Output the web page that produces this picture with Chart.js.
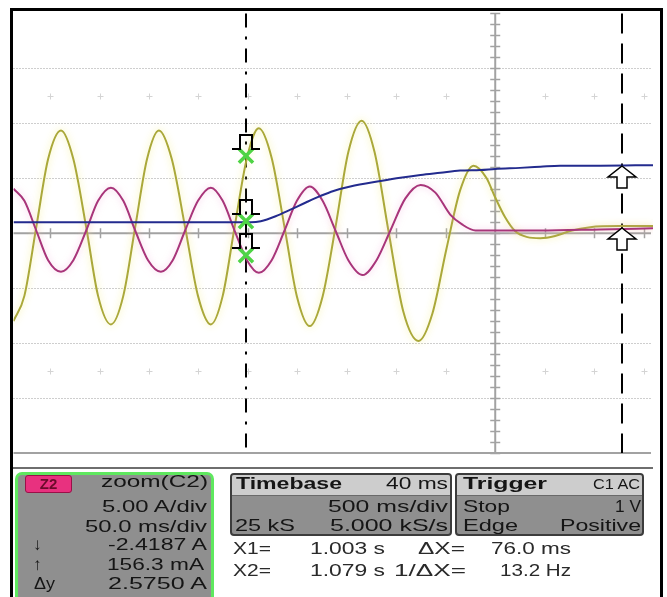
<!DOCTYPE html>
<html>
<head>
<meta charset="utf-8">
<script src="https://cdn.jsdelivr.net/npm/chart.js@4.4.1/dist/chart.umd.min.js"></script>
<style>
html,body{margin:0;padding:0;background:#fff;width:667px;height:597px;overflow:hidden;}
#wrap{position:relative;width:667px;height:597px;overflow:hidden;font-family:"Liberation Sans",Arial,sans-serif;}
#c{position:absolute;left:0;top:0;}
.frame{position:absolute;left:10px;top:8px;width:653px;height:610px;border:3px solid #000;box-sizing:border-box;pointer-events:none;}
.sep{position:absolute;left:12px;top:467px;width:641px;height:2px;background:#6e6e6e;}
.z2{position:absolute;left:15px;top:472px;width:199px;height:140px;box-sizing:border-box;border:3px solid #5fe85f;border-radius:7px;background:#8f8f8f;}
.badge{position:absolute;left:25px;top:475px;width:47px;height:18px;background:#e8317f;border-radius:3px;border:1px solid #9a1048;box-sizing:border-box;color:#6a0a2a;font-weight:bold;font-size:15px;line-height:16px;text-align:center;}
.box{position:absolute;top:473px;height:63px;box-sizing:border-box;border:2px solid #3c3c3c;border-radius:4px;background:#8f8f8f;overflow:hidden;}
.box .hd{position:absolute;left:0;top:0;right:0;height:20px;background:#cdcdcd;border-bottom:1px solid #6a6a6a;}
.t{position:absolute;white-space:nowrap;font-size:17px;line-height:20px;color:#151515;transform-origin:0 50%;}
.b{font-weight:bold;}
.s{font-size:14px;}
.w{color:#2a2a2a;}
</style>
</head>
<body>
<div id="wrap">
<canvas id="c" width="667" height="597"></canvas>
<div class="sep"></div>
<div class="z2"></div>
<div class="badge">Z2</div>
<div class="box" style="left:230px;width:222px;"><div class="hd"></div></div>
<div class="box" style="left:455px;width:189px;"><div class="hd"></div></div>

<div class="t" data-w="107" style="left:101px;top:472px;">zoom(C2)</div>
<div class="t" data-w="105" style="left:102px;top:497px;">5.00 A/div</div>
<div class="t" data-w="122" style="left:85px;top:517px;">50.0 ms/div</div>
<div class="t" data-w="99" style="left:108px;top:535px;">-2.4187 A</div>
<div class="t" data-w="97" style="left:107px;top:555px;">156.3 mA</div>
<div class="t" data-w="99" style="left:108px;top:574px;">2.5750 A</div>
<div class="t" style="left:33px;top:535px;">↓</div>
<div class="t" style="left:33px;top:555px;">↑</div>
<div class="t" data-w="21" style="left:34px;top:574px;">Δy</div>

<div class="t b" data-w="106" style="left:236px;top:474px;">Timebase</div>
<div class="t" data-w="62" style="left:386px;top:474px;">40 ms</div>
<div class="t" data-w="120" style="left:328px;top:497px;">500 ms/div</div>
<div class="t" data-w="60" style="left:235px;top:516px;">25 kS</div>
<div class="t" data-w="118" style="left:330px;top:516px;">5.000 kS/s</div>

<div class="t b" data-w="84" style="left:463px;top:474px;">Trigger</div>
<div class="t s" data-w="47" style="left:593px;top:474px;">C1 AC</div>
<div class="t" data-w="47" style="left:463px;top:497px;">Stop</div>
<div class="t" data-w="26" style="left:615px;top:497px;">1 V</div>
<div class="t" data-w="55" style="left:463px;top:516px;">Edge</div>
<div class="t" data-w="81" style="left:560px;top:516px;">Positive</div>

<div class="t w" data-w="38" style="left:233px;top:539px;">X1=</div>
<div class="t w" data-w="75" style="left:310px;top:539px;">1.003 s</div>
<div class="t w" data-w="47" style="left:418px;top:539px;">ΔX=</div>
<div class="t w" data-w="80" style="left:491px;top:539px;">76.0 ms</div>
<div class="t w" data-w="38" style="left:233px;top:561px;">X2=</div>
<div class="t w" data-w="75" style="left:310px;top:561px;">1.079 s</div>
<div class="t w" data-w="72" style="left:394px;top:561px;">1/ΔX=</div>
<div class="t w" data-w="71" style="left:500px;top:561px;">13.2 Hz</div>

<div class="frame"></div>
</div>
<script>
// ---------- data (time in ms, 10 ms/div, 0 at centre graticule; amplitude in divisions) ----------
const yellowT = [-97.4,-95.2,-92.8,-90.4,-87.8,-85.3,-82.7,-80.3,-77.7,-75.2,-72.8,-70.4,-68.0,-65.4,-62.7,-60.1,-57.5,-55.1,-52.7,-50.2,-47.8,-45.2,-42.6,-40.1,-37.5,-34.9,-32.3,-29.7,-27.0,-24.4,-21.6,-18.6,-15.5,-12.7,-9.9,-7.1,-4.4,-1.8,0.0,2.0,4.0,6.5,9.1,12.1,15.1,19.2,25.2,31.9];
const yellowV = [-1.60,-1.14,0.11,1.35,1.87,1.35,0.11,-1.14,-1.66,-1.14,0.11,1.35,1.87,1.35,0.11,-1.14,-1.66,-1.14,0.11,1.37,1.91,1.37,0.11,-1.15,-1.69,-1.15,0.11,1.48,2.05,1.48,0.05,-1.42,-1.96,-1.46,-0.30,0.78,1.23,1.01,0.65,0.29,0.04,-0.07,-0.09,-0.05,0.04,0.11,0.13,0.13];
const magentaT = [-97.4,-95.2,-92.8,-90.4,-87.8,-85.3,-82.7,-80.3,-77.7,-75.2,-72.8,-70.2,-67.6,-65.2,-62.7,-60.1,-57.5,-55.1,-52.7,-50.2,-47.8,-45.2,-42.6,-40.1,-37.5,-34.9,-32.3,-29.7,-26.8,-24.0,-21.2,-18.2,-15.1,-12.1,-9.1,-6.7,-4.0,0.0,9.1,21.2,31.9];
const magentaV = [0.81,0.59,0.05,-0.49,-0.70,-0.49,0.05,0.59,0.83,0.59,0.05,-0.49,-0.70,-0.49,0.05,0.59,0.83,0.59,0.05,-0.49,-0.72,-0.49,0.05,0.59,0.85,0.59,0.05,-0.49,-0.76,-0.49,0.05,0.63,0.88,0.74,0.34,0.16,0.05,0.05,0.05,0.07,0.09];
const blueT = [-97.4,-49.4,-47.4,-44.4,-41.4,-38.3,-35.3,-32.7,-29.3,-23.2,-19.2,-15.1,-11.1,-7.1,-3.0,0.0,5.0,9.1,13.1,21.2,31.9];
const blueV = [0.20,0.20,0.22,0.31,0.43,0.56,0.68,0.77,0.85,0.95,1.01,1.06,1.10,1.14,1.15,1.17,1.19,1.21,1.23,1.23,1.24];
const cursorX = [-50.4, 25.6];            // X1, X2 (ms)
const markerY = [1.41, 0.22, -0.40];      // values at cursor X1 (div)
const arrowY  = [1.23, 0.10];             // values at cursor X2 (div)
const xDivs = [-90,-80,-70,-60,-50,-40,-30,-20,-10,0,10,20,30];
const yDivs = [-4,-3,-2,-1,0,1,2,3,4];
const dotRows = [2.5,-2.5];

const toXY = (t,v) => t.map((x,i)=>({x, y:v[i]}));

const glow = {
  id:'glow',
  beforeDatasetDraw(chart,args){
    const ds = chart.data.datasets[args.index];
    if (ds.glowColor){ chart.ctx.save(); chart.ctx.shadowColor = ds.glowColor; chart.ctx.shadowBlur = 7; }
  },
  afterDatasetDraw(chart,args){
    const ds = chart.data.datasets[args.index];
    if (ds.glowColor){ chart.ctx.restore(); }
  }
};

const scopeGrid = {
  id:'scopeGrid',
  beforeDatasetsDraw(chart){
    const {ctx, chartArea:a, scales:{x,y}} = chart;
    ctx.save();
    ctx.strokeStyle = '#9c9c9c'; ctx.lineWidth = 1; ctx.setLineDash([1,2]);
    yDivs.forEach(v=>{
      if (v===0 || v===-4 || v===4) return;
      const py = Math.round(y.getPixelForValue(v))+0.5;
      ctx.beginPath(); ctx.moveTo(a.left,py); ctx.lineTo(a.right-2,py); ctx.stroke();
    });
    ctx.setLineDash([]);
    ctx.strokeStyle = '#d4d4d4'; ctx.lineWidth = 1;
    dotRows.forEach(r=>{
      const py = Math.round(y.getPixelForValue(r))+0.5;
      xDivs.forEach(v=>{
        if (v===0) return;
        const px = Math.round(x.getPixelForValue(v))+0.5;
        ctx.beginPath(); ctx.moveTo(px-3,py); ctx.lineTo(px+3,py); ctx.moveTo(px,py-3); ctx.lineTo(px,py+3); ctx.stroke();
      });
    });
    ctx.strokeStyle = '#a2a2a2'; ctx.lineWidth = 2;
    const y0 = y.getPixelForValue(0), x0 = x.getPixelForValue(0), yb = y.getPixelForValue(-4);
    ctx.beginPath(); ctx.moveTo(a.left,y0); ctx.lineTo(a.right-2,y0); ctx.stroke();
    ctx.beginPath(); ctx.moveTo(a.left,yb); ctx.lineTo(a.right-2,yb); ctx.stroke();
    ctx.beginPath(); ctx.moveTo(x0,a.top); ctx.lineTo(x0,yb); ctx.stroke();
    ctx.lineWidth = 1.5;
    xDivs.forEach(v=>{
      if (v===0) return;
      const px = Math.round(x.getPixelForValue(v))+0.5;
      ctx.beginPath(); ctx.moveTo(px,y0-5); ctx.lineTo(px,y0+5); ctx.stroke();
    });
    for (let d=-4; d<=4.001; d+=0.2){
      const py = Math.round(y.getPixelForValue(d))+0.5;
      ctx.beginPath(); ctx.moveTo(x0-5,py); ctx.lineTo(x0+5,py); ctx.stroke();
    }
    const yt = a.top;
    ctx.strokeStyle = '#000'; ctx.lineWidth = 2;
    const c1 = Math.round(x.getPixelForValue(cursorX[0]));
    ctx.setLineDash([14,9,3,9]);
    ctx.beginPath(); ctx.moveTo(c1,yt); ctx.lineTo(c1,yb); ctx.stroke();
    const c2 = Math.round(x.getPixelForValue(cursorX[1]));
    ctx.setLineDash([20,10]);
    ctx.beginPath(); ctx.moveTo(c2,yt); ctx.lineTo(c2,yb); ctx.stroke();
    ctx.setLineDash([]);
    ctx.restore();
  },
  afterDatasetsDraw(chart){
    const {ctx, scales:{x,y}} = chart;
    ctx.save();
    ctx.strokeStyle = '#000'; ctx.lineWidth = 2; ctx.lineJoin='miter';
    const c1 = Math.round(x.getPixelForValue(cursorX[0]));
    markerY.forEach(v=>{
      const by = Math.round(y.getPixelForValue(v)) - 7;
      ctx.beginPath();
      ctx.moveTo(c1-14,by); ctx.lineTo(c1-6,by); ctx.lineTo(c1-6,by-14); ctx.lineTo(c1+6,by-14); ctx.lineTo(c1+6,by); ctx.lineTo(c1+14,by);
      ctx.stroke();
    });
    const c2 = Math.round(x.getPixelForValue(cursorX[1]));
    ctx.fillStyle = '#fff'; ctx.lineWidth = 1.5;
    arrowY.forEach(v=>{
      const t = Math.round(y.getPixelForValue(v));
      ctx.beginPath();
      ctx.moveTo(c2,t); ctx.lineTo(c2+14,t+11); ctx.lineTo(c2+5,t+11); ctx.lineTo(c2+5,t+22);
      ctx.lineTo(c2-5,t+22); ctx.lineTo(c2-5,t+11); ctx.lineTo(c2-14,t+11); ctx.closePath();
      ctx.fill(); ctx.stroke();
    });
    ctx.restore();
  }
};

new Chart(document.getElementById('c'), {
  type:'line',
  data:{datasets:[
    {label:'markers', data: markerY.map(v=>({x:cursorX[0], y:v})), showLine:false,
     pointStyle:'crossRot', pointRadius:10, pointBorderWidth:3.5, borderWidth:3.5, borderColor:'#4fd446', backgroundColor:'#4fd446'},
    {label:'C3', data: toXY(blueT,blueV), borderColor:'#232b8e', borderWidth:2, pointRadius:0, cubicInterpolationMode:'monotone'},
    {label:'C2', data: toXY(magentaT,magentaV), borderColor:'#a8357a', borderWidth:2, pointRadius:0, cubicInterpolationMode:'monotone', glowColor:'rgba(240,160,210,0.6)'},
    {label:'C1', data: toXY(yellowT,yellowV), borderColor:'#aaa83a', borderWidth:2, pointRadius:0, cubicInterpolationMode:'monotone', glowColor:'rgba(245,240,140,0.9)'}
  ]},
  options:{
    responsive:false, animation:false, events:[],
    layout:{padding:{left:12,right:14,top:9,bottom:144}},
    scales:{
      x:{type:'linear', min:-97.4, max:31.9, display:false},
      y:{type:'linear', min:-4, max:4, display:false}
    },
    plugins:{legend:{display:false}, tooltip:{enabled:false}}
  },
  plugins:[scopeGrid, glow]
});

document.querySelectorAll('.t[data-w]').forEach(el=>{
  const w = parseFloat(el.dataset.w);
  const m = el.getBoundingClientRect().width;
  if (m>0) el.style.transform = 'scaleX(' + (w/m).toFixed(3) + ')';
});
</script>
</body>
</html>
